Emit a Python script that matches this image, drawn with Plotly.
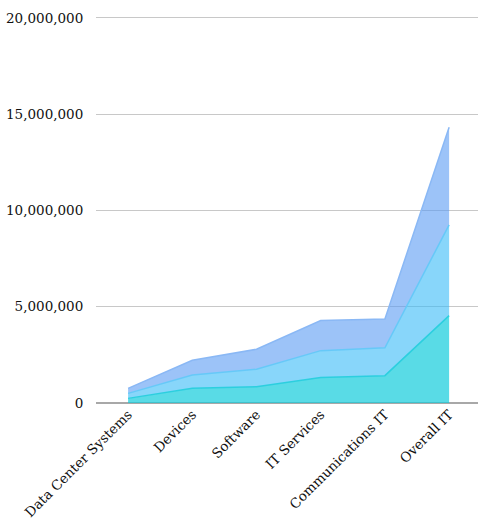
import plotly.graph_objects as go

categories = ["Data Center Systems", "Devices", "Software", "IT Services", "Communications IT", "Overall IT"]
series_a = [240000, 760000, 850000, 1330000, 1420000, 4540000]
series_b = [260000, 690000, 900000, 1390000, 1450000, 4710000]
series_c = [260000, 770000, 1040000, 1560000, 1490000, 5070000]
tick_vals = [0, 5000000, 10000000, 15000000, 20000000]
tick_text = ["0", "5,000,000", "10,000,000", "15,000,000", "20,000,000"]

styles = [
    (series_a, "rgba(19,204,219,0.7)", "#2ccfdf"),
    (series_b, "rgba(57,187,247,0.6)", "#66c9f8"),
    (series_c, "rgba(90,155,243,0.6)", "#8ab8f5"),
]

fig = go.Figure()
for vals, fillc, linec in styles:
    fig.add_trace(go.Scatter(
        x=categories, y=vals, mode="lines", stackgroup="one",
        fillcolor=fillc, line=dict(color=linec, width=1.5),
        hoverinfo="skip",
    ))

fnt = dict(family="DejaVu Serif", size=13.5, color="#111")
fig.update_layout(
    width=478, height=529,
    margin=dict(l=96, r=0, t=16, b=126),
    paper_bgcolor="white", plot_bgcolor="white",
    showlegend=False,
    font=fnt,
    xaxis=dict(
        range=[-0.5, 5.45], tickangle=-45, showgrid=True,
        gridcolor="rgba(255,255,255,0.8)", gridwidth=1,
        showline=False, zeroline=False, ticks="",
        tickfont=fnt,
    ),
    yaxis=dict(
        range=[0, 20100000], tickvals=tick_vals, ticktext=tick_text,
        showgrid=True, gridcolor="#c8c8c8", gridwidth=1,
        zeroline=True, zerolinecolor="#a8a8a8", zerolinewidth=2,
        ticks="outside", ticklen=9, tickcolor="rgba(0,0,0,0)",
        tickfont=fnt,
    ),
)

fig.write_html("out.html")
